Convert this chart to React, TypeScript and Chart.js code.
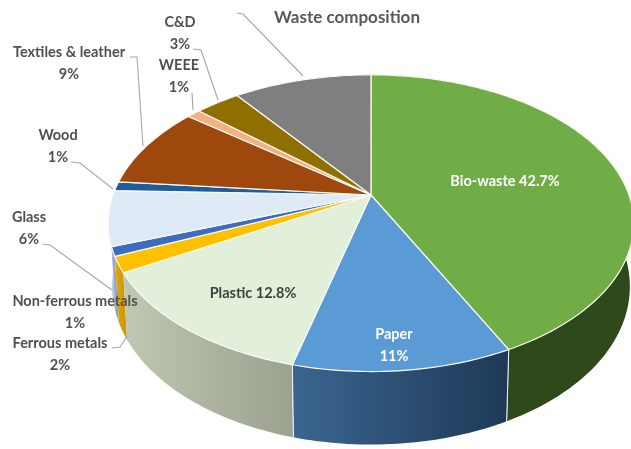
import React, { useEffect, useRef } from "react";
import { Chart, registerables } from "chart.js";

Chart.register(...registerables);

const categories = [
  "Bio-waste", "Paper", "Plastic", "Ferrous metals", "Non-ferrous metals",
  "Glass", "Wood", "Textiles & leather", "WEEE", "C&D", "Other",
];
const shares = [42.7, 11.3, 12.8, 1.7, 1, 6, 1, 9, 1, 3.3, 10.2];
const topColors = [
  "#70AD47", "#5B9BD5", "#E2EFDA", "#FFC000", "#3F6DBE",
  "#DEEAF6", "#1F5C9E", "#9E480E", "#F4B183", "#8F6F00", "#7F7F7F",
];
const wallLeft = [
  "#2C4719", "#3B6690", "#BFC8B2", "#E0A90C", "#A9BCE0",
  "#C5D2DE", "#1A4C82", "#7E390B", "#C98F68", "#6E5500", "#5E5E5E",
];
const wallRight = [
  "#2F4A1A", "#1E3957", "#9BA290", "#D09A08", "#8FA6D2",
  "#AEBAC6", "#143C68", "#642D08", "#B07C58", "#5C4700", "#4E4E4E",
];
const title = "Waste composition";

const calloutTexts: [string, string][] = [
  ["C&D", "3%"],
  ["WEEE", "1%"],
  ["Textiles & leather", "9%"],
  ["Wood", "1%"],
  ["Glass", "6%"],
  ["Non-ferrous metals", "1%"],
  ["Ferrous metals", "2%"],
];
const insideTexts = ["Bio-waste 42.7%", "Plastic 12.8%", "Paper", "11%"];
const calloutPlaces = [
  { x: 180, y: 22 },
  { x: 179, y: 65 },
  { x: 69, y: 52 },
  { x: 58, y: 135 },
  { x: 29, y: 217 },
  { x: 75, y: 301 },
  { x: 60, y: 343 },
];
const leaderLines = [
  [[193, 49], [201, 50], [218, 100]],
  [[192, 93], [193, 110]],
  [[130, 57], [137, 57], [143, 146]],
  [[71, 162], [80, 163], [113, 189]],
  [[43, 244], [50, 245], [112, 290]],
  [[112, 348], [120, 347], [127, 336]],
  [[237, 13], [243, 14], [303, 76]],
];

const CX = 371;
const CY = 195;
const A = 258;
const B = 143;
const K = 0.19;
const WALL_X_SCALE = 0.985;
const FONT = "Lato, 'Open Sans', sans-serif";

function rim(angle: number) {
  const u = Math.cos(angle);
  const v = Math.sin(angle);
  const w = 1 - K * v;
  return { x: CX + (A * u) / w, y: CY + (B * v) / w, v };
}
function depth(v: number) {
  return 61 + 12 * Math.max(v, -0.2);
}
function samples(start: number, end: number) {
  const n = Math.max(2, Math.ceil((end - start) / 0.02));
  const pts = [];
  for (let i = 0; i <= n; i++) pts.push(rim(start + ((end - start) * i) / n));
  return pts;
}
const floorX = (x: number) => CX + (x - CX) * WALL_X_SCALE;

const pie3d = {
  id: "pie3d",
  beforeDatasetDraw() {
    return false; // the arcs are drawn in perspective below
  },
  beforeDatasetsDraw(chart: any) {
    const ctx: CanvasRenderingContext2D = chart.ctx;
    const arcs = chart.getDatasetMeta(0).data.map((el: any, i: number) => {
      const p = el.getProps(["startAngle", "endAngle"], true);
      return { i, start: p.startAngle, end: p.endAngle, pts: samples(p.startAngle, p.endAngle) };
    });
    ctx.save();
    ctx.lineJoin = "round";
    const order = [...arcs].sort(
      (a, b) => Math.max(...a.pts.map((q: any) => q.v)) - Math.max(...b.pts.map((q: any) => q.v)),
    );
    for (const a of order) {
      const xs = a.pts.map((q: any) => q.x);
      const g = ctx.createLinearGradient(Math.min(...xs), 0, Math.max(...xs), 0);
      g.addColorStop(0, wallLeft[a.i]);
      g.addColorStop(1, wallRight[a.i]);
      ctx.beginPath();
      a.pts.forEach((q: any, n: number) => (n ? ctx.lineTo(q.x, q.y) : ctx.moveTo(q.x, q.y)));
      [...a.pts].reverse().forEach((q: any) => ctx.lineTo(floorX(q.x), q.y + depth(q.v)));
      ctx.closePath();
      ctx.fillStyle = g;
      ctx.fill();
      ctx.strokeStyle = "rgba(255,255,255,0.85)";
      ctx.lineWidth = 1;
      ctx.beginPath();
      for (const q of [a.pts[0], a.pts[a.pts.length - 1]]) {
        if (q.v > 0.6) {
          ctx.moveTo(q.x, q.y);
          ctx.lineTo(floorX(q.x), q.y + depth(q.v));
        }
      }
      ctx.stroke();
    }
    for (const a of arcs) {
      ctx.beginPath();
      ctx.moveTo(CX, CY);
      a.pts.forEach((q: any) => ctx.lineTo(q.x, q.y));
      ctx.closePath();
      ctx.fillStyle = topColors[a.i];
      ctx.fill();
      ctx.strokeStyle = "#FBFBF4";
      ctx.lineWidth = 1.2;
      ctx.stroke();
    }
    ctx.restore();
  },
  afterDatasetsDraw(chart: any) {
    const ctx: CanvasRenderingContext2D = chart.ctx;
    ctx.save();
    ctx.strokeStyle = "#A6A6A6";
    ctx.lineWidth = 1.1;
    for (const line of leaderLines) {
      ctx.beginPath();
      line.forEach(([x, y], n) => (n ? ctx.lineTo(x, y) : ctx.moveTo(x, y)));
      ctx.stroke();
    }
    ctx.textAlign = "center";
    ctx.textBaseline = "middle";
    ctx.font = `bold 14.5px ${FONT}`;
    ctx.fillStyle = "#505050";
    calloutTexts.forEach(([a, b], i) => {
      const p = calloutPlaces[i];
      ctx.fillText(a, p.x, p.y);
      ctx.fillText(b, p.x, p.y + 22);
    });
    ctx.fillStyle = "#404040";
    ctx.fillText(insideTexts[1], 253, 293);
    ctx.fillStyle = "#FFFFFF";
    ctx.fillText(insideTexts[0], 505, 181);
    ctx.fillText(insideTexts[2], 394, 334);
    ctx.fillText(insideTexts[3], 394, 356);
    ctx.fillStyle = "#595959";
    ctx.font = `bold 17px ${FONT}`;
    ctx.fillText(title, 347, 18);
    ctx.restore();
  },
};

export default function App() {
  const ref = useRef<HTMLCanvasElement>(null);
  useEffect(() => {
    document.body.style.margin = "0";
    const chart = new Chart(ref.current as HTMLCanvasElement, {
      type: "pie",
      data: {
        labels: categories,
        datasets: [{ data: shares, backgroundColor: topColors, borderWidth: 0 }],
      },
      options: {
        animation: false,
        responsive: false,
        rotation: 0,
        plugins: { legend: { display: false }, tooltip: { enabled: false } },
      },
      plugins: [pie3d],
    } as any);
    return () => chart.destroy();
  }, []);
  return (
    <canvas
      ref={ref}
      width={631}
      height={449}
      style={{ display: "block", width: 631, height: 449, background: "#fff", filter: "blur(0.4px)" }}
    />
  );
}
